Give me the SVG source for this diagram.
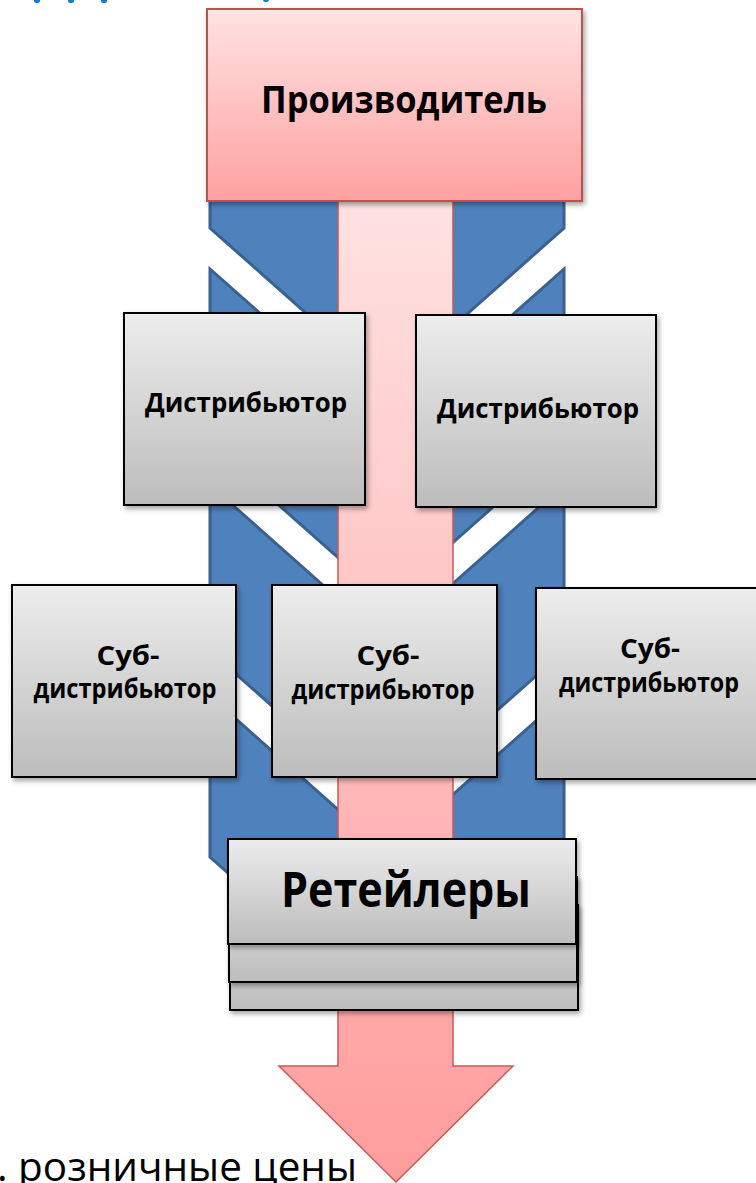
<svg xmlns="http://www.w3.org/2000/svg" width="756" height="1183" viewBox="0 0 756 1183">
<defs>
  <linearGradient id="gGray" x1="0" y1="0" x2="0" y2="1">
    <stop offset="0" stop-color="#EDEDED"/>
    <stop offset="1" stop-color="#BCBCBC"/>
  </linearGradient>
  <linearGradient id="gPinkBox" x1="0" y1="0" x2="0" y2="1">
    <stop offset="0" stop-color="#FFE3E3"/>
    <stop offset="1" stop-color="#FFA0A0"/>
  </linearGradient>
  <linearGradient id="gArrow" gradientUnits="userSpaceOnUse" x1="0" y1="195" x2="0" y2="1182">
    <stop offset="0" stop-color="#FFE2E2"/>
    <stop offset="1" stop-color="#FF9C9C"/>
  </linearGradient>
  <filter id="sh" x="-10%" y="-10%" width="130%" height="130%">
    <feDropShadow dx="2" dy="3" stdDeviation="2.5" flood-color="#000" flood-opacity="0.35"/>
  </filter>
</defs>
<style>
  .chev{fill:#4F81BD;stroke:#3A6190;stroke-width:3;stroke-linejoin:miter}
  .box{fill:url(#gGray);stroke:#000;stroke-width:2;filter:url(#sh)}
  .t{font-family:"Open Sans","Noto Sans","Liberation Sans",sans-serif;font-weight:700;fill:#000;text-anchor:middle}
  .cut{fill:#0A7DCB}
</style>

<g id="title-cut">
  <rect class="cut" x="34" y="-3" width="6" height="6" rx="2.5"/>
  <rect class="cut" x="68" y="-3" width="6" height="6" rx="2.5"/>
  <rect class="cut" x="101" y="-3" width="6" height="6" rx="2.5"/>
  <rect class="cut" x="263" y="-3" width="6" height="5" rx="2.5"/>
</g>

<g id="chevrons">
  <polygon class="chev" points="210,58 387,215 564,58 564,228 387,385 210,228"/>
  <polygon class="chev" points="210,269 387,426 564,269 564,444 387,601 210,444"/>
  <polygon class="chev" points="210,485 387,642 564,485 564,651 387,808 210,651"/>
  <polygon class="chev" points="210,696 387,853 564,696 564,857 387,1014 210,857"/>
</g>

<g id="connectors">
  <path d="M338,195 H453 V1066 H513 L396,1182 L279,1066 H338 Z" fill="url(#gArrow)" stroke="#C85A57" stroke-width="1.5"/>
</g>

<g id="producer">
  <rect x="207" y="9" width="375" height="192" fill="url(#gPinkBox)" stroke="#C0504D" stroke-width="2" filter="url(#sh)"/>
  <text class="t" x="404" y="113" font-size="38" textLength="286" lengthAdjust="spacingAndGlyphs">Производитель</text>
</g>

<g id="distributor-left">
  <rect class="box" x="124" y="313" width="241" height="192"/>
  <text class="t" x="246" y="412" font-size="27" textLength="202" lengthAdjust="spacingAndGlyphs">Дистрибьютор</text>
</g>
<g id="distributor-right">
  <rect class="box" x="416" y="315" width="240" height="192"/>
  <text class="t" x="538" y="418" font-size="27" textLength="202" lengthAdjust="spacingAndGlyphs">Дистрибьютор</text>
</g>

<g id="subdistributor-left">
  <rect class="box" x="12" y="585" width="224" height="192"/>
  <text class="t" x="128" y="665" font-size="26" textLength="63" lengthAdjust="spacingAndGlyphs">Суб-</text>
  <text class="t" x="125" y="698" font-size="26" textLength="183" lengthAdjust="spacingAndGlyphs">дистрибьютор</text>
</g>
<g id="subdistributor-center">
  <rect class="box" x="272" y="585" width="225" height="192"/>
  <text class="t" x="388" y="665" font-size="26" textLength="63" lengthAdjust="spacingAndGlyphs">Суб-</text>
  <text class="t" x="383" y="699" font-size="26" textLength="183" lengthAdjust="spacingAndGlyphs">дистрибьютор</text>
</g>
<g id="subdistributor-right">
  <rect class="box" x="536" y="588" width="221" height="191"/>
  <text class="t" x="650" y="658" font-size="26" textLength="60" lengthAdjust="spacingAndGlyphs">Суб-</text>
  <text class="t" x="649" y="692" font-size="26" textLength="180" lengthAdjust="spacingAndGlyphs">дистрибьютор</text>
</g>

<g id="retailers">
  <rect class="box" x="230" y="905" width="348" height="105"/>
  <rect class="box" x="229" y="877" width="348" height="105"/>
  <rect class="box" x="228" y="839" width="348" height="105"/>
  <text class="t" x="406" y="907" font-size="48" textLength="250" lengthAdjust="spacingAndGlyphs">Ретейлеры</text>
</g>

<g id="caption">
  <text x="-3" y="1181" font-family="'Open Sans','Noto Sans','Liberation Sans',sans-serif" font-size="41" fill="#000" textLength="360" lengthAdjust="spacingAndGlyphs">. розничные цены</text>
</g>
</svg>
